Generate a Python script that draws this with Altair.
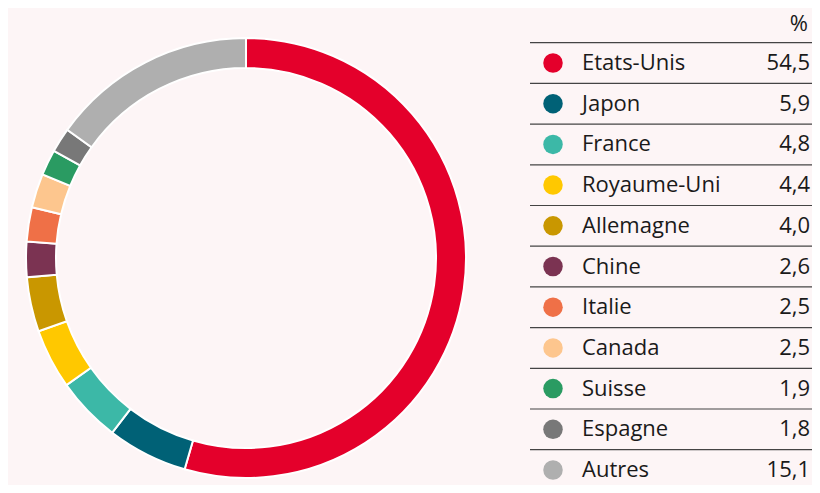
import altair as alt
import pandas as pd

countries = ["Etats-Unis", "Japon", "France", "Royaume-Uni", "Allemagne", "Chine",
             "Italie", "Canada", "Suisse", "Espagne", "Autres"]
values = [54.5, 5.9, 4.8, 4.4, 4.0, 2.6, 2.5, 2.5, 1.9, 1.8, 15.1]
labels = ["54,5", "5,9", "4,8", "4,4", "4,0", "2,6", "2,5", "2,5", "1,9", "1,8", "15,1"]
colors = ["#e4002b", "#006176", "#3cb8a7", "#ffc800", "#c99700", "#7b3352",
          "#ef7047", "#fdc68e", "#2a9b62", "#787878", "#afafaf"]

df = pd.DataFrame({"country": countries, "value": values, "label": labels,
                   "idx": list(range(len(countries)))})

FONT = "Open Sans"
FS = 22
TXT = "#1a1a1a"

color = alt.Color("country:N", scale=alt.Scale(domain=countries, range=colors), legend=None)
yrow = alt.Y("country:N", sort=countries, axis=None,
             scale=alt.Scale(type="point", range=[55, 462], padding=0))

base = alt.Chart(df)

donut = base.mark_arc(outerRadius=220, innerRadius=190, stroke="#ffffff", strokeWidth=2).encode(
    theta=alt.Theta("value:Q", stack=True),
    order=alt.Order("idx:Q"),
    color=color,
    x=alt.value(238),
    y=alt.value(250),
)

rules = base.mark_rule(color="#444444", strokeWidth=1.2, yOffset=-20.3).encode(
    y=yrow, x=alt.value(522), x2=alt.value(804)
)

dots = base.mark_point(shape="circle", filled=True, opacity=1, size=380).encode(
    y=yrow, x=alt.value(545), color=color
)

names = base.mark_text(align="left", baseline="middle", font=FONT, fontSize=FS, color=TXT).encode(
    y=yrow, x=alt.value(574), text="country:N"
)

nums = base.mark_text(align="right", baseline="middle", font=FONT, fontSize=FS, color=TXT).encode(
    y=yrow, x=alt.value(802), text="label:N"
)

header = alt.Chart(pd.DataFrame({"t": ["%"]})).mark_text(
    align="right", baseline="middle", font=FONT, fontSize=FS, color=TXT
).encode(x=alt.value(800), y=alt.value(16), text="t:N")

chart = alt.layer(donut, rules, dots, names, nums, header).properties(
    width=804, height=477, padding=0,
    autosize=alt.AutoSizeParams(type="none"),
    background="#fdf5f6",
).configure_view(stroke=None)

chart.save("out.html", embed_options={"renderer": "svg", "actions": False})
